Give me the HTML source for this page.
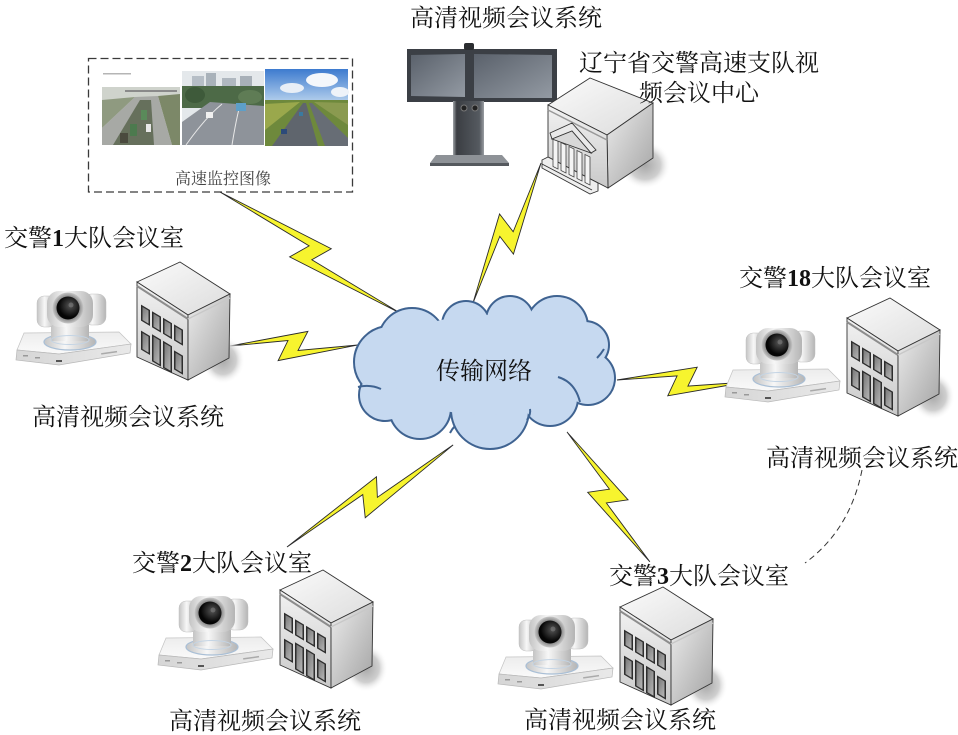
<!DOCTYPE html>
<html><head><meta charset="utf-8"><style>html,body{margin:0;padding:0;background:#fff}svg{display:block}</style></head>
<body>
<svg width="958" height="735" viewBox="0 0 958 735" xmlns="http://www.w3.org/2000/svg">
<defs>
 <linearGradient id="bFront" x1="0" y1="0" x2="0" y2="1"><stop offset="0" stop-color="#f2f2f2"/><stop offset="1" stop-color="#c9c9c9"/></linearGradient>
 <linearGradient id="bRight" x1="0" y1="0" x2="1" y2="1"><stop offset="0" stop-color="#ececec"/><stop offset="1" stop-color="#a3a3a3"/></linearGradient>
 <linearGradient id="bTop" x1="0" y1="0" x2="1" y2="1"><stop offset="0" stop-color="#fbfbfb"/><stop offset="1" stop-color="#dcdcdc"/></linearGradient>
 <linearGradient id="win" x1="0" y1="0" x2="1" y2="1"><stop offset="0" stop-color="#777"/><stop offset="1" stop-color="#b8b8b8"/></linearGradient>
 <radialGradient id="shadow"><stop offset="0" stop-color="#a8a8a8"/><stop offset="0.6" stop-color="#cfcfcf"/><stop offset="1" stop-color="#fff" stop-opacity="0"/></radialGradient>
 <linearGradient id="metalH" x1="0" y1="0" x2="1" y2="0"><stop offset="0" stop-color="#c4c4c4"/><stop offset="0.4" stop-color="#f7f7f7"/><stop offset="1" stop-color="#b5b5b5"/></linearGradient>
 <linearGradient id="camTop" x1="0" y1="0" x2="0" y2="1"><stop offset="0" stop-color="#ececec"/><stop offset="1" stop-color="#fafafa"/></linearGradient>
 <linearGradient id="camFront" x1="0" y1="0" x2="1" y2="0"><stop offset="0" stop-color="#d6d6d6"/><stop offset="1" stop-color="#e9e9e9"/></linearGradient>
 <radialGradient id="lensRing"><stop offset="0.6" stop-color="#6a6a6a"/><stop offset="1" stop-color="#c8c8c8"/></radialGradient>
 <radialGradient id="lens" cx="0.6" cy="0.4"><stop offset="0" stop-color="#555"/><stop offset="1" stop-color="#050505"/></radialGradient>
 <linearGradient id="screen" x1="0" y1="0" x2="1" y2="1"><stop offset="0" stop-color="#5a616b"/><stop offset="1" stop-color="#939aa3"/></linearGradient>
 <linearGradient id="stand" x1="0" y1="0" x2="1" y2="0"><stop offset="0" stop-color="#a0a4a8"/><stop offset="0.12" stop-color="#3b3e43"/><stop offset="0.85" stop-color="#555a60"/><stop offset="1" stop-color="#9a9ea3"/></linearGradient>
 <linearGradient id="sky3" x1="0" y1="0" x2="0" y2="1"><stop offset="0" stop-color="#3d7bcf"/><stop offset="1" stop-color="#bcd5ee"/></linearGradient>

 <g id="bld">
  <ellipse cx="88" cy="98" rx="22" ry="24" fill="url(#shadow)"/>
  <polygon points="2,20 45,0 95,32 53,53" fill="url(#bTop)" stroke="#333" stroke-width="0.9"/>
  <polygon points="2,20 53,53 53,118 2,95" fill="url(#bFront)" stroke="#333" stroke-width="0.9"/>
  <polygon points="53,53 95,32 94,96 53,118" fill="url(#bRight)" stroke="#333" stroke-width="0.9"/>
  <polyline points="2,24 53,57" stroke="#8d8d8d" stroke-width="2" fill="none"/>
  <polyline points="53,57 95,36" stroke="#c8c8c8" stroke-width="1.5" fill="none"/>
  <g transform="matrix(1,0.6,0,1,0,0)">
   <rect x="6" y="39" width="9" height="16" fill="#2e2e2e"/><rect x="7.5" y="40.5" width="6" height="13" fill="url(#win)"/>
   <rect x="17" y="39" width="9" height="16" fill="#2e2e2e"/><rect x="18.5" y="40.5" width="6" height="13" fill="url(#win)"/>
   <rect x="28" y="39" width="9" height="16" fill="#2e2e2e"/><rect x="29.5" y="40.5" width="6" height="13" fill="url(#win)"/>
   <rect x="39" y="39" width="9" height="16" fill="#2e2e2e"/><rect x="40.5" y="40.5" width="6" height="13" fill="url(#win)"/>
   <rect x="6" y="65" width="9" height="19" fill="#2e2e2e"/><rect x="7.5" y="66.5" width="6" height="16" fill="url(#win)"/>
   <rect x="17" y="62" width="9" height="27" fill="#2e2e2e"/><rect x="18.5" y="63.5" width="6" height="24" fill="url(#win)"/>
   <rect x="28" y="62" width="9" height="27" fill="#2e2e2e"/><rect x="29.5" y="63.5" width="6" height="24" fill="url(#win)"/>
   <rect x="39" y="65" width="9" height="19" fill="#2e2e2e"/><rect x="40.5" y="66.5" width="6" height="16" fill="url(#win)"/>
  </g>
 </g>

 <g id="cam">
  <polygon points="9,42 104,41 116,53 44,63 2,59" fill="url(#camTop)" stroke="#c4c4c4" stroke-width="0.7"/>
  <polygon points="2,59 44,63 116,53 115,62 44,74 1,69" fill="url(#camFront)" stroke="#b8b8b8" stroke-width="0.7"/>
  <rect x="8" y="64" width="5" height="1.5" fill="#999"/>
  <rect x="20" y="66" width="5" height="1.5" fill="#999"/>
  <rect x="41" y="69" width="6" height="2" fill="#555"/>
  <rect x="86" y="61" width="16" height="1.5" fill="#aaa" transform="rotate(-8 94 61)"/>
  <ellipse cx="55" cy="51" rx="26" ry="8" fill="url(#metalH)" stroke="#a9bfd6" stroke-width="1.2"/>
  <rect x="36" y="29" width="38" height="21" fill="url(#metalH)"/>
  <ellipse cx="55" cy="49" rx="19" ry="4.5" fill="none" stroke="#c4d4e4" stroke-width="1"/>
  <rect x="22" y="5" width="19" height="31" rx="7" fill="url(#metalH)" stroke="#c0c0c0" stroke-width="0.5"/>
  <rect x="68" y="3" width="23" height="31" rx="8" fill="url(#metalH)" stroke="#c0c0c0" stroke-width="0.5"/>
  <rect x="32" y="0" width="46" height="36" rx="12" fill="url(#metalH)"/>
  <circle cx="53" cy="17" r="15.5" fill="url(#lensRing)"/>
  <circle cx="53" cy="17" r="11.5" fill="url(#lens)"/>
  <circle cx="56" cy="14" r="2.5" fill="#888" opacity="0.5"/>
 </g>
</defs>

<!-- dashed box with images -->
<rect x="88.5" y="58.5" width="264" height="133.5" fill="#fff" stroke="#3a3a3a" stroke-width="1.3" stroke-dasharray="8 4"/>
<rect x="103" y="73" width="28" height="1.5" fill="#b5b5b5"/>
<g>
 <rect x="102" y="87" width="78" height="58" fill="#cfd3cc"/>
 <rect x="125" y="90" width="52" height="2" fill="#8a8a8a"/>
 <polygon points="102,100 135,97 102,128" fill="#8f9a80"/>
 <polygon points="158,96 180,94 180,145 172,145" fill="#7c8868"/>
 <polygon points="102,128 135,97 158,96 172,145 102,145" fill="#a7a9a5"/>
 <polygon points="113,145 140,100 151,100 154,145" fill="#66705c"/>
 <rect x="130" y="124" width="7" height="12" fill="#4c7a4e"/>
 <rect x="141" y="110" width="6" height="10" fill="#5a8a5a"/>
 <rect x="120" y="133" width="8" height="10" fill="#4a4a3e"/>
 <rect x="146" y="124" width="5" height="8" fill="#e8e8e8"/>
</g>
<g>
 <rect x="182" y="71" width="82" height="74" fill="#e4e8eb"/>
 <rect x="192" y="76" width="12" height="14" fill="#b6bec6"/>
 <rect x="206" y="73" width="10" height="17" fill="#a9b2ba"/>
 <rect x="222" y="78" width="14" height="12" fill="#b0b8c0"/>
 <rect x="240" y="76" width="12" height="14" fill="#a8b0b8"/>
 <rect x="182" y="86" width="82" height="22" fill="#4d6a47"/>
 <ellipse cx="195" cy="95" rx="10" ry="8" fill="#3e5a3a"/>
 <ellipse cx="250" cy="97" rx="12" ry="7" fill="#5f7c55"/>
 <polygon points="182,145 182,122 210,102 264,106 264,145" fill="#8e939a"/>
 <path d="M186,145 Q205,118 222,104 M232,145 Q236,120 240,105" stroke="#e8e8e8" stroke-width="1" fill="none"/>
 <rect x="206" y="112" width="7" height="6" fill="#f0f0f0"/>
 <rect x="236" y="103" width="10" height="8" fill="#5d9fc8"/>
</g>
<g>
 <rect x="265" y="69" width="83" height="35" fill="url(#sky3)"/>
 <ellipse cx="322" cy="80" rx="16" ry="7" fill="#f4f7fb"/>
 <ellipse cx="292" cy="88" rx="12" ry="5" fill="#e8eef6"/>
 <ellipse cx="340" cy="92" rx="9" ry="5" fill="#eef3f9"/>
 <rect x="265" y="100" width="83" height="46" fill="#6e893c"/>
 <polygon points="265,104 300,102 265,130" fill="#9aa84c"/>
 <polygon points="314,102 348,103 348,125" fill="#8a9a50"/>
 <polygon points="272,146 303,103 306,103 318,146" fill="#5f656d"/>
 <polygon points="325,146 309,103 312,103 348,138 348,146" fill="#676d75"/>
 <rect x="281" y="129" width="6" height="5" fill="#2c4a7a"/>
 <rect x="299" y="112" width="4" height="4" fill="#3a7aa0"/>
</g>
<text x="175" y="184" font-family="Liberation Serif, 'Noto Serif CJK SC', serif" font-size="16" fill="#444">高速监控图像</text>

<!-- bolts -->
<g fill="#f7f42e" stroke="#2a2a2a" stroke-width="0.9" stroke-linejoin="miter">
 <polygon transform="translate(220,192) rotate(33.91)" points="0,0 124,-15 114,5 217,0 94,15 104,-5"/>
 <polygon transform="translate(230,346) rotate(-0.45)" points="0,0 78,-14 68,5 128,0 48,15 58,-5"/>
 <polygon transform="translate(541,163) rotate(115.9)" points="0,0 94,-15 84,5 156,0 64,15 74,-5"/>
 <polygon transform="translate(617,380) rotate(0.88)" points="0,0 80,-14 71,5 130,0 51,15 60,-5"/>
 <polygon transform="translate(287,547) rotate(-31.57)" points="0,0 113,-13 103,5 195,0 82,16 92,-5"/>
 <polygon transform="translate(567,432) rotate(57.45)" points="0,0 90,-15 81,5 154,0 62,15 71,-5"/>
</g>

<!-- cloud -->
<g stroke="#3f6391" stroke-width="4" fill="#c6d9f0">
 <circle cx="412" cy="342" r="33"/><circle cx="466" cy="325" r="23"/><circle cx="510" cy="320" r="23"/>
 <circle cx="557" cy="327" r="30"/><circle cx="585" cy="345" r="23"/><circle cx="588" cy="378" r="26"/>
 <circle cx="550" cy="398" r="27"/><circle cx="490" cy="410" r="38"/><circle cx="420" cy="408" r="30"/>
 <circle cx="385" cy="395" r="25"/><circle cx="390" cy="362" r="35"/>
</g>
<g fill="#c6d9f0">
 <circle cx="412" cy="342" r="33"/><circle cx="466" cy="325" r="23"/><circle cx="510" cy="320" r="23"/>
 <circle cx="557" cy="327" r="30"/><circle cx="585" cy="345" r="23"/><circle cx="588" cy="378" r="26"/>
 <circle cx="550" cy="398" r="27"/><circle cx="490" cy="410" r="38"/><circle cx="420" cy="408" r="30"/>
 <circle cx="385" cy="395" r="25"/><circle cx="390" cy="362" r="35"/>
 <ellipse cx="485" cy="365" rx="100" ry="50"/>
</g>
<g stroke="#3f6391" stroke-width="2" fill="none">
 <path d="M558,377 Q575,382 580,402"/>
 <path d="M358,387 Q370,384 381,389"/>
 <path d="M527,420 Q531,414 530,409"/>
 <path d="M597,358 Q601,354 604,349"/>
 <path d="M450,433 Q452,429 455,426"/>
</g>
<text x="436" y="379" font-family="Liberation Serif, 'Noto Serif CJK SC', serif" font-size="24" fill="#111">传输网络</text>

<!-- video terminal -->
<g>
 <rect x="407" y="49" width="150" height="53" fill="#3b3f45"/>
 <polygon points="411,55 465,54 465,97 411,96" fill="url(#screen)"/>
 <polygon points="474,54 552,55 552,98 474,98" fill="url(#screen)"/>
 <rect x="464" y="43" width="10" height="7" rx="2" fill="#2b2d30"/>
 <rect x="453" y="101" width="31" height="56" fill="url(#stand)"/>
 <circle cx="464" cy="108" r="3" fill="#222" stroke="#777" stroke-width="1"/>
 <circle cx="475" cy="108" r="3" fill="#222" stroke="#777" stroke-width="1"/>
 <polygon points="436,155 502,155 509,163 430,163" fill="#8e9297"/>
 <rect x="430" y="163" width="79" height="3" fill="#55595e"/>
</g>

<!-- HQ building -->
<g stroke="#333" stroke-width="0.9">
 <ellipse cx="645" cy="165" rx="26" ry="24" fill="url(#shadow)" stroke="none"/>
 <polygon points="548,105 590,78 653,103 607,135" fill="url(#bTop)"/>
 <polygon points="607,135 653,103 653,158 608,188" fill="url(#bRight)"/>
 <polygon points="548,105 607,135 608,188 548,157" fill="url(#bFront)"/>
 <polyline points="548,110 607,140" fill="none" stroke="#999" stroke-width="1.5"/>
 <polygon points="542,160 548,157 598,183 598,191 590,194 542,168" fill="#eeeeee"/>
 <polyline points="542,164 592,190" fill="none"/>
 <g transform="matrix(1,0.5,0,1,0,0)" stroke="#444" stroke-width="0.8">
  <rect x="553" y="-138" width="5" height="28" fill="#f4f4f4"/>
  <rect x="561" y="-138" width="5" height="28" fill="#f4f4f4"/>
  <rect x="569" y="-138" width="5" height="28" fill="#f4f4f4"/>
  <rect x="577" y="-138" width="5" height="28" fill="#f4f4f4"/>
  <rect x="585" y="-138" width="5" height="28" fill="#f4f4f4"/>
 </g>
 <polygon points="550,133 572,123 596,150 591,153 572,131 552,139" fill="#e9e9e9"/>
 <polygon points="552,139 572,131 591,153" fill="#d8d8d8"/>
</g>

<!-- devices -->
<use href="#bld" transform="translate(135,262)"/>
<use href="#cam" transform="translate(15,291)"/>
<use href="#bld" transform="translate(845,298)"/>
<use href="#cam" transform="translate(724,328)"/>
<use href="#bld" transform="translate(278,570)"/>
<use href="#cam" transform="translate(157,596)"/>
<use href="#bld" transform="translate(618,587)"/>
<use href="#cam" transform="translate(497,615)"/>

<!-- dashed arc -->
<path d="M862,470 Q850,530 805,563" fill="none" stroke="#333" stroke-width="1" stroke-dasharray="6 4"/>

<!-- labels -->
<g font-family="Liberation Serif, 'Noto Serif CJK SC', serif" font-size="24" fill="#111">
 <text x="410" y="26">高清视频会议系统</text>
 <text x="579" y="71">辽宁省交警高速支队视</text>
 <text x="639" y="101">频会议中心</text>
 <text x="4" y="246">交警<tspan font-weight="bold">1</tspan>大队会议室</text>
 <text x="32" y="425">高清视频会议系统</text>
 <text x="739" y="286">交警<tspan font-weight="bold">18</tspan>大队会议室</text>
 <text x="766" y="466">高清视频会议系统</text>
 <text x="132" y="571">交警<tspan font-weight="bold">2</tspan>大队会议室</text>
 <text x="169" y="729">高清视频会议系统</text>
 <text x="609" y="584">交警<tspan font-weight="bold">3</tspan>大队会议室</text>
 <text x="524" y="728">高清视频会议系统</text>
</g>
</svg>
</body></html>
